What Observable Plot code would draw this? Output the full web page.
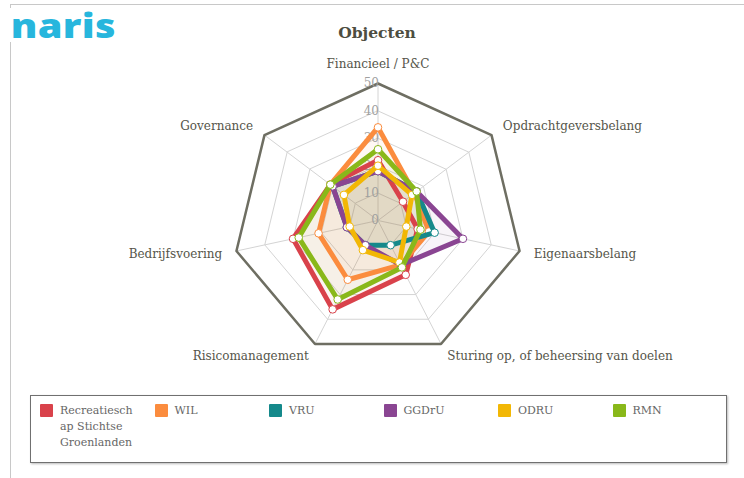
<!DOCTYPE html>
<html><head><meta charset="utf-8">
<script src="https://cdn.jsdelivr.net/npm/d3@7"></script>
<script src="https://cdn.jsdelivr.net/npm/@observablehq/plot@0.6"></script>
<style>
body{margin:0;background:#fff;}
#wrap{position:relative;width:744px;height:478px;overflow:hidden;font-family:"DejaVu Serif",serif;background:#fff;}
#frameTop{position:absolute;left:10px;top:4px;width:740px;height:0;border-top:1.5px solid #c8c8c8;}
#frameLeft{position:absolute;left:10px;top:4px;width:0;height:480px;border-left:1.5px solid #c8c8c8;}
#chart{position:absolute;left:0;top:0;}
#logo{position:absolute;left:6px;top:8px;height:34px;padding:0 6px 0 4px;background:#fff;color:#27b6dd;font-family:"Open Sans",sans-serif;font-weight:800;font-size:34px;letter-spacing:0.3px;transform-origin:left top;transform:scaleX(1.17);line-height:34px;}
#title{position:absolute;left:0;width:754px;top:23px;text-align:center;font-weight:bold;font-size:15.5px;color:#4d4d40;}
#legend{position:absolute;left:30px;top:395px;width:695px;height:66px;border:1.5px solid #707070;box-shadow:1px 1px 2px #bbb;background:#fff;}
.item{position:absolute;top:7px;font-size:11px;color:#666;line-height:16px;white-space:pre-line;}
.sw{position:absolute;left:0;top:1px;width:13px;height:13px;border-radius:1px;}
.lab{position:absolute;left:20px;top:0;white-space:pre;}
</style></head><body>
<div id="wrap">
  <div id="frameLeft"></div>
  <div id="chart"></div>
  <div id="logo">naris</div>
  <div id="frameTop"></div>
  <div id="title">Objecten</div>
  <div id="legend"></div>
</div>
<script>
// ---- data ----
const axes = ["Financieel / P&C", "Opdrachtgeversbelang", "Eigenaarsbelang", "Sturing op, of beheersing van doelen", "Risicomanagement", "Bedrijfsvoering", "Governance"];
const seriesNames = ["Recreatieschap Stichtse Groenlanden", "WIL", "VRU", "GGDrU", "ODRU", "RMN"];
const legendLabels = ["Recreatiesch\nap Stichtse\nGroenlanden", "WIL", "VRU", "GGDrU", "ODRU", "RMN"];
const seriesColors = ["#d9424b", "#fb8c3e", "#15898b", "#8a4592", "#f2b705", "#89b81a"];
const recreatieschap = [22, 11, 14, 22, 36, 30, 21];
const wil = [34, 16, 18, 18, 24, 21, 21];
const vru = [18, 17, 20, 10, 10, 11, 20];
const ggdru = [18, 17, 30, 18, 10, 11, 20];
const odru = [20, 15, 10, 17, 12, 10, 15];
const rmn = [26, 17, 15, 19, 32, 28, 21];
const ringTicks = [0, 10, 20, 30, 40, 50];

const seriesValues = [recreatieschap, wil, vru, ggdru, odru, rmn];
const maxV = 50;
const cx = 377.5, cy = 220, ry = 2.74, rx = 2.904;
const n = axes.length;
const ang = k => k * 2 * Math.PI / n;
const pt = (v, k) => ({x: v * Math.sin(ang(k)), y: v * Math.cos(ang(k))});

const rows = seriesNames.map((s, i) => seriesValues[i].map((v, k) => ({series: s, axis: axes[k], k, v, ...pt(v, k)})));
const rings = ringTicks.filter(t => t > 0).flatMap(t => axes.map((a, k) => ({ring: t, ...pt(t, k)})));
const spokes = axes.map((a, k) => ({axis: a, ...pt(maxV, k)}));
const labelPts = axes.map((a, k) => ({axis: a, k, ...pt(maxV + 5, k)}));

const marks = [
  Plot.line(rings.filter(d => d.ring < maxV), {x: "x", y: "y", z: "ring", curve: "linear-closed", stroke: "#d4d4d4", strokeWidth: 1}),
  Plot.link(spokes, {x1: 0, y1: 0, x2: "x", y2: "y", stroke: "#d4d4d4", strokeWidth: 1}),
];
rows.forEach((r, i) => {
  marks.push(Plot.line(r, {x: "x", y: "y", curve: "linear-closed", fill: seriesColors[i], fillOpacity: 0.06, stroke: null}));
});
marks.push(Plot.line(rings.filter(d => d.ring === maxV), {x: "x", y: "y", curve: "linear-closed", stroke: "#6e6e62", strokeWidth: 2.5}));
marks.push(Plot.text(ringTicks, {x: 0, y: d => d, text: d => String(d), textAnchor: "end", dx: 1, fill: "#a0a0a0", fontSize: 12, fontFamily: "DejaVu Serif"}));
rows.forEach((r, i) => {
  marks.push(Plot.line(r, {x: "x", y: "y", curve: "linear-closed", stroke: seriesColors[i], strokeWidth: 5, strokeLinejoin: "miter"}));
  marks.push(Plot.dot(r, {x: "x", y: "y", r: 3.8, fill: "#fff", stroke: seriesColors[i], strokeWidth: 1}));
});
const lf = {x: "x", y: "y", text: "axis", fill: "#55554a", fontSize: 12, fontFamily: "DejaVu Serif"};
marks.push(Plot.text(labelPts.filter(d => d.k === 0), {...lf, textAnchor: "middle", dy: -6}));
marks.push(Plot.text(labelPts.filter(d => d.k >= 1 && d.k <= 3), {...lf, textAnchor: "start"}));
marks.push(Plot.text(labelPts.filter(d => d.k >= 4), {...lf, textAnchor: "end"}));

const chart = Plot.plot({
  width: 744, height: 390,
  margin: 0,
  x: {type: "linear", domain: [-maxV, maxV], range: [cx - maxV * rx, cx + maxV * rx], axis: null},
  y: {type: "linear", domain: [-maxV, maxV], range: [cy + maxV * ry, cy - maxV * ry], axis: null},
  style: {background: "transparent", overflow: "visible"},
  marks
});
document.getElementById("chart").appendChild(chart);

// legend
const lg = document.getElementById("legend");
seriesNames.forEach((s, i) => {
  const it = document.createElement("div");
  it.className = "item";
  it.style.left = (9 + i * 114.5) + "px";
  it.innerHTML = `<div class="sw" style="background:${seriesColors[i]}"></div><div class="lab"></div>`;
  it.querySelector(".lab").textContent = legendLabels[i];
  it.title = s;
  lg.appendChild(it);
});
</script>
</body></html>
